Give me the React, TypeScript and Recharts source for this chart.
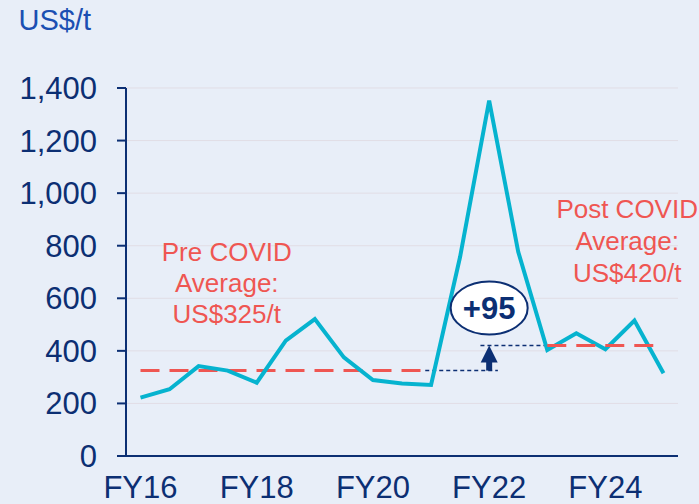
import React from 'react';
import {
  LineChart,
  Line,
  XAxis,
  YAxis,
  CartesianGrid,
  ReferenceLine,
  ReferenceDot,
} from 'recharts';

// ---------- data ----------
const categories = [
  '1H FY16', '2H FY16', '1H FY17', '2H FY17', '1H FY18', '2H FY18',
  '1H FY19', '2H FY19', '1H FY20', '2H FY20', '1H FY21', '2H FY21',
  '1H FY22', '2H FY22', '1H FY23', '2H FY23', '1H FY24', '2H FY24', '1H FY25',
];
const priceValues = [
  222, 254, 342, 325, 279, 439, 521, 375, 289, 276, 270, 758,
  1352, 777, 403, 467, 406, 515, 315,
];
const xTickCategories = ['1H FY16', '1H FY18', '1H FY20', '1H FY22', '1H FY24'];
const xTickLabels = ['FY16', 'FY18', 'FY20', 'FY22', 'FY24'];
const yTicks = [0, 200, 400, 600, 800, 1000, 1200, 1400];

const preCovidAverage = 325;
const postCovidAverage = 420;
const upliftLabel = '+95';
const preCovidLines = ['Pre COVID', 'Average:', 'US$325/t'];
const postCovidLines = ['Post COVID', 'Average:', 'US$420/t'];
const unitLabel = 'US$/t';

// ---------- styling / annotation placement ----------
const NAVY = '#0c2f73';
const RED = '#ef5652';
const CYAN = '#06b3cf';
const BG = '#e8eef8';
const FONT = '"Liberation Sans", Arial, sans-serif';

const data = categories.map((c, i) => ({ period: c, price: priceValues[i] }));

const multiLine = (lines: string[], fill: string, size: number, gap: number) => (p: any) => (
  <g>
    {lines.map((l, i) => (
      <text
        key={i}
        x={p.cx}
        y={p.cy + i * gap}
        textAnchor="middle"
        fill={fill}
        fontSize={size}
        fontFamily={FONT}
      >
        {l}
      </text>
    ))}
  </g>
);

const ellipseShape = (p: any) => (
  <g>
    <ellipse cx={p.cx} cy={p.cy} rx={38.5} ry={26.5} fill="#ffffff" stroke={NAVY} strokeWidth={2} />
    <text
      x={p.cx}
      y={p.cy + 11}
      textAnchor="middle"
      fill={NAVY}
      fontSize={31}
      fontWeight="bold"
      fontFamily={FONT}
    >
      {upliftLabel}
    </text>
  </g>
);

const arrowHead = (p: any) => (
  <polygon
    points={`${p.cx},${p.cy} ${p.cx - 8.5},${p.cy + 17} ${p.cx + 8.5},${p.cy + 17}`}
    fill={NAVY}
  />
);

export default function App() {
  return (
    <div
      style={{
        position: 'absolute',
        left: 0,
        top: 0,
        width: 699,
        height: 504,
        background: BG,
        overflow: 'hidden',
      }}
    >
      <svg
        width={699}
        height={504}
        style={{ position: 'absolute', left: 0, top: 0, pointerEvents: 'none' }}
      >
        <text x={18.5} y={30} fill="#1b4fb2" fontSize={29} fontFamily={FONT}>
          {unitLabel}
        </text>
      </svg>
      <div style={{ position: 'absolute', left: 0, top: 0 }}>
        <LineChart
          width={699}
          height={504}
          data={data}
          margin={{ top: 88, right: 21, bottom: 0, left: 0 }}
        >
          <CartesianGrid horizontal vertical={false} stroke="#e1dde5" strokeWidth={1} />
          <XAxis
            dataKey="period"
            ticks={xTickCategories}
            interval={0}
            tickFormatter={(v: string) => xTickLabels[xTickCategories.indexOf(v)] ?? ''}
            padding={{ left: 14.5, right: 14.5 }}
            height={48}
            tickLine={false}
            tickSize={0}
            tickMargin={20}
            axisLine={{ stroke: NAVY, strokeWidth: 2 }}
            tick={{ fill: NAVY, fontSize: 31, fontFamily: FONT }}
          />
          <XAxis
            xAxisId="pos"
            type="number"
            domain={[0, 18]}
            padding={{ left: 14.5, right: 14.5 }}
            allowDataOverflow
            hide
          />
          <YAxis
            width={126}
            domain={[0, 1400]}
            ticks={yTicks}
            interval={0}
            tickFormatter={(v: number) => v.toLocaleString('en-US')}
            tickSize={9}
            tickMargin={20}
            axisLine={{ stroke: NAVY, strokeWidth: 2 }}
            tickLine={{ stroke: NAVY, strokeWidth: 2 }}
            tick={{ fill: NAVY, fontSize: 31, fontFamily: FONT }}
          />

          {/* averages */}
          <ReferenceLine
            xAxisId="pos"
            segment={[{ x: 0, y: preCovidAverage }, { x: 9.8, y: preCovidAverage }]}
            stroke={RED}
            strokeWidth={3}
            strokeDasharray="19 10"
          />
          <ReferenceLine
            xAxisId="pos"
            segment={[{ x: 9.8, y: preCovidAverage }, { x: 12.3, y: preCovidAverage }]}
            stroke={NAVY}
            strokeWidth={1.5}
            strokeDasharray="4 3"
          />
          <ReferenceLine
            xAxisId="pos"
            segment={[{ x: 11.7, y: postCovidAverage }, { x: 14, y: postCovidAverage }]}
            stroke={NAVY}
            strokeWidth={1.5}
            strokeDasharray="4 3"
          />

          <Line
            type="linear"
            dataKey="price"
            stroke={CYAN}
            strokeWidth={4}
            dot={false}
            activeDot={false}
            isAnimationActive={false}
          />

          <ReferenceLine
            xAxisId="pos"
            segment={[{ x: 14, y: postCovidAverage }, { x: 17.7, y: postCovidAverage }]}
            stroke={RED}
            strokeWidth={3}
            strokeDasharray="19 10"
          />

          {/* arrow */}
          <ReferenceLine
            xAxisId="pos"
            segment={[{ x: 12, y: preCovidAverage }, { x: 12, y: 390 }]}
            stroke={NAVY}
            strokeWidth={6}
          />
          <ReferenceDot xAxisId="pos" x={12} y={postCovidAverage} r={1} shape={arrowHead} />
          <ReferenceDot xAxisId="pos" x={12} y={563} r={1} shape={ellipseShape} />

          {/* annotation texts */}
          <ReferenceDot xAxisId="pos" x={2.97} y={742} r={1} shape={multiLine(preCovidLines, RED, 26, 31)} />
          <ReferenceDot xAxisId="pos" x={16.75} y={905} r={1} shape={multiLine(postCovidLines, RED, 26, 31.7)} />
        </LineChart>
      </div>
    </div>
  );
}
